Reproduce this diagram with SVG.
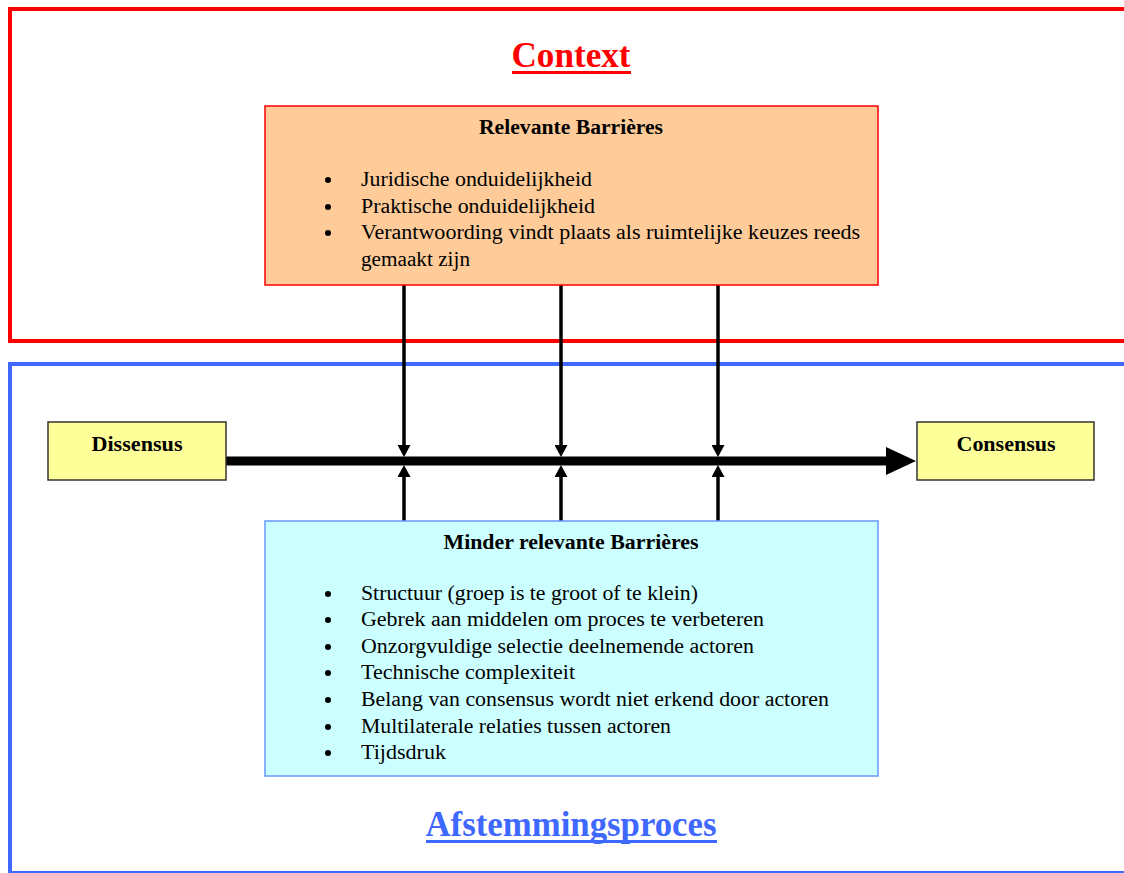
<svg xmlns="http://www.w3.org/2000/svg" width="1124" height="873" viewBox="0 0 1124 873">
  <style>
    text { font-family: "Liberation Serif", "Times New Roman", serif; fill: #000; }
    .head { font-weight: bold; font-size: 20px; text-anchor: middle; }
    .item { font-size: 20px; }
    .title { font-weight: bold; font-size: 35px; text-anchor: middle; }
    .conn { stroke: #000; fill: none; }
    .dot { fill: #000; }
  </style>
  <defs>
    <marker id="bigHead" markerUnits="userSpaceOnUse" markerWidth="30" markerHeight="28" refX="4" refY="14" orient="auto">
      <path d="M0,0 L30,14 L0,28 Z" fill="#000"/>
    </marker>
    <marker id="smallHead" markerUnits="userSpaceOnUse" markerWidth="12" markerHeight="13" refX="3" refY="6.5" orient="auto">
      <path d="M0,0 L12,6.5 L0,13 Z" fill="#000"/>
    </marker>
  </defs>

  <rect width="1124" height="873" fill="#fff"/>

  <!-- Context frame -->
  <g id="context">
    <rect x="10" y="9" width="1130" height="332" fill="none" stroke="#ff0000" stroke-width="4"/>
    <text class="title" x="571" y="67" style="fill:#ff0000" textLength="119" lengthAdjust="spacingAndGlyphs">Context</text>
    <rect x="512" y="71" width="119" height="3" fill="#ff0000"/>
  </g>

  <!-- Afstemmingsproces frame -->
  <g id="afstemmingsproces">
    <rect x="10" y="364" width="1130" height="509" fill="none" stroke="#3f68ff" stroke-width="4"/>
    <text class="title" x="571" y="836" style="fill:#3f68ff" textLength="291" lengthAdjust="spacingAndGlyphs">Afstemmingsproces</text>
    <rect x="426" y="840" width="291" height="3" fill="#3f68ff"/>
  </g>

  <!-- Connectors -->
  <g id="connectors">
    <line class="conn" x1="226" y1="461" x2="890" y2="461" stroke-width="9" marker-end="url(#bigHead)"/>
    <line class="conn" x1="404" y1="285" x2="404" y2="448" stroke-width="3.5" marker-end="url(#smallHead)"/>
    <line class="conn" x1="561" y1="285" x2="561" y2="448" stroke-width="3.5" marker-end="url(#smallHead)"/>
    <line class="conn" x1="718" y1="285" x2="718" y2="448" stroke-width="3.5" marker-end="url(#smallHead)"/>
    <line class="conn" x1="404" y1="521" x2="404" y2="474" stroke-width="3.5" marker-end="url(#smallHead)"/>
    <line class="conn" x1="561" y1="521" x2="561" y2="474" stroke-width="3.5" marker-end="url(#smallHead)"/>
    <line class="conn" x1="718" y1="521" x2="718" y2="474" stroke-width="3.5" marker-end="url(#smallHead)"/>
  </g>

  <!-- Relevant barriers -->
  <g id="relevante-barrieres">
    <rect x="265" y="106" width="613" height="179" fill="#ffcc99" stroke="#ff0000" stroke-width="1.5"/>
    <text class="head" x="571" y="134" textLength="184" lengthAdjust="spacingAndGlyphs">Relevante Barrières</text>
    <circle class="dot" cx="328" cy="180" r="3"/>
    <text class="item" x="361" y="186" textLength="231" lengthAdjust="spacingAndGlyphs">Juridische onduidelijkheid</text>
    <circle class="dot" cx="328" cy="207" r="3"/>
    <text class="item" x="361" y="213" textLength="234" lengthAdjust="spacingAndGlyphs">Praktische onduidelijkheid</text>
    <circle class="dot" cx="328" cy="233" r="3"/>
    <text class="item" x="361" y="239" textLength="499" lengthAdjust="spacingAndGlyphs">Verantwoording vindt plaats als ruimtelijke keuzes reeds</text>
    <text class="item" x="361" y="266" textLength="109" lengthAdjust="spacingAndGlyphs">gemaakt zijn</text>
  </g>

  <!-- Less relevant barriers -->
  <g id="minder-relevante-barrieres">
    <rect x="265" y="521" width="613" height="255" fill="#ccffff" stroke="#6699ff" stroke-width="1.5"/>
    <text class="head" x="571" y="549" textLength="255" lengthAdjust="spacingAndGlyphs">Minder relevante Barrières</text>
    <circle class="dot" cx="328" cy="594" r="3"/>
    <text class="item" x="361" y="600" textLength="337" lengthAdjust="spacingAndGlyphs">Structuur (groep is te groot of te klein)</text>
    <circle class="dot" cx="328" cy="620" r="3"/>
    <text class="item" x="361" y="626" textLength="403" lengthAdjust="spacingAndGlyphs">Gebrek aan middelen om proces te verbeteren</text>
    <circle class="dot" cx="328" cy="647" r="3"/>
    <text class="item" x="361" y="653" textLength="393" lengthAdjust="spacingAndGlyphs">Onzorgvuldige selectie deelnemende actoren</text>
    <circle class="dot" cx="328" cy="673" r="3"/>
    <text class="item" x="361" y="679" textLength="214" lengthAdjust="spacingAndGlyphs">Technische complexiteit</text>
    <circle class="dot" cx="328" cy="700" r="3"/>
    <text class="item" x="361" y="706" textLength="468" lengthAdjust="spacingAndGlyphs">Belang van consensus wordt niet erkend door actoren</text>
    <circle class="dot" cx="328" cy="727" r="3"/>
    <text class="item" x="361" y="733" textLength="310" lengthAdjust="spacingAndGlyphs">Multilaterale relaties tussen actoren</text>
    <circle class="dot" cx="328" cy="753" r="3"/>
    <text class="item" x="361" y="759" textLength="85" lengthAdjust="spacingAndGlyphs">Tijdsdruk</text>
  </g>

  <!-- Start and end states -->
  <g id="dissensus">
    <rect x="48" y="422" width="178" height="58" fill="#ffff99" stroke="#333" stroke-width="1.5"/>
    <text class="head" x="137" y="451" textLength="91" lengthAdjust="spacingAndGlyphs">Dissensus</text>
  </g>
  <g id="consensus">
    <rect x="917" y="422" width="177" height="58" fill="#ffff99" stroke="#333" stroke-width="1.5"/>
    <text class="head" x="1006" y="451" textLength="99" lengthAdjust="spacingAndGlyphs">Consensus</text>
  </g>
</svg>
